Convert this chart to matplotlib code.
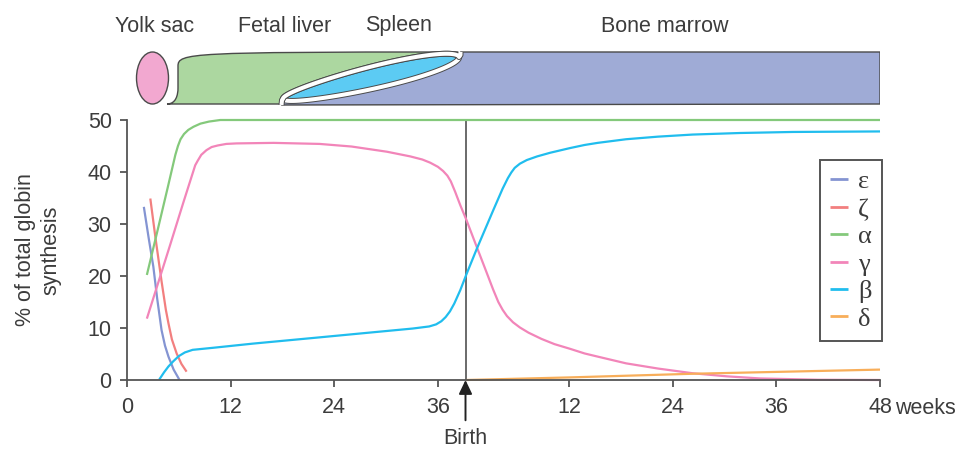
import numpy as np
import matplotlib
matplotlib.use("Agg")
import matplotlib.pyplot as plt
from matplotlib.patches import Ellipse, PathPatch
from matplotlib.path import Path

# ---------------- data (weeks on a continuous time axis; birth at BIRTH) --------------
BIRTH = 39.2
prenatal_ticks = [0, 12, 24, 36]
postnatal_ticks = [12, 24, 36, 48]
tick_labels = ["0", "12", "24", "36", "12", "24", "36", "48"]

eps_x = [1.95, 2.5, 3.05, 3.5, 4.0, 4.4, 4.8, 5.4, 6.05]
eps_y = [33.3, 27.4, 21.8, 15.6, 9.6, 6.6, 4.5, 2.0, 0.1]

zeta_x = [2.7, 3.3, 4.0, 4.5, 4.8, 5.2, 5.75, 6.3, 6.9]
zeta_y = [34.9, 27.3, 19.0, 13.5, 10.9, 7.8, 5.1, 3.1, 1.6]

alpha_x = [2.3, 3.5, 4.7, 5.6, 5.9, 6.2, 6.6, 7.1, 7.7, 8.5, 9.5, 10.8, 87.2]
alpha_y = [20.2, 28.5, 36.9, 43.3, 45.0, 46.3, 47.3, 48.1, 48.7, 49.3, 49.7, 50.0, 50.0]

gamma_x = [2.3, 3.5, 5.0, 6.5, 7.67, 7.9, 8.2, 8.6, 9.2, 9.8, 10.5, 11.5, 12.7, 17.0,
           22.3, 26.0, 30.1, 32.8, 34.2, 35.1, 36.0, 36.6, 37.1, 37.5, 38.0, 38.6,
           39.3, 40.5, 41.5, 42.4, 43.0, 43.5, 44.0, 44.7, 45.5, 46.5, 48.0, 49.5,
           51.3, 53.0, 54.5, 57.8, 61.5, 65.5, 69.5, 73.3, 80.0, 87.2]
gamma_y = [11.8, 18.1, 26.0, 34.0, 40.1, 41.3, 42.2, 43.3, 44.2, 44.8, 45.1, 45.4,
           45.5, 45.6, 45.4, 44.9, 43.9, 43.0, 42.4, 41.8, 41.0, 40.2, 39.3, 38.2,
           36.2, 33.6, 30.8, 25.6, 21.3, 17.4, 15.0, 13.5, 12.3, 11.1, 10.1, 9.1,
           7.9, 6.9, 6.0, 5.1, 4.5, 3.2, 2.2, 1.3, 0.7, 0.3, 0.05, 0.0]

beta_x = [3.74, 4.3, 4.8, 5.36, 6.0, 6.7, 7.6, 10.0, 14.6, 22.3, 28.0, 33.1, 35.0,
          35.8, 36.4, 36.9, 37.4, 37.9, 38.6, 39.3, 40.5, 42.4, 43.5, 44.1, 44.5,
          44.9, 45.5, 46.3, 47.5, 49.0, 51.3, 53.0, 54.5, 57.8, 61.5, 65.5, 71.0,
          77.1, 87.2]
beta_y = [0.1, 1.5, 2.6, 3.6, 4.6, 5.3, 5.8, 6.2, 7.0, 8.2, 9.1, 9.9, 10.3,
          10.7, 11.3, 12.1, 13.2, 14.7, 17.3, 20.3, 25.2, 32.6, 36.8, 38.8, 39.9,
          40.8, 41.6, 42.3, 43.0, 43.7, 44.6, 45.2, 45.6, 46.3, 46.8, 47.2, 47.5,
          47.7, 47.8]

delta_x = [39.3, 51.3, 65.5, 87.2]
delta_y = [0.0, 0.5, 1.2, 2.0]

series_labels = ["ε", "ζ", "α", "γ", "β", "δ"]
series_colors = ["#8494d2", "#f27f7f", "#84c97b", "#f285b9", "#20bdee", "#f8ae5a"]

organs = ["Yolk sac", "Fetal liver", "Spleen", "Bone marrow"]

# ---------------- figure ----------------
W, H = 956, 451
fig = plt.figure(figsize=(W / 100, H / 100), dpi=100)
SANS = ["Liberation Sans Narrow", "Liberation Sans", "DejaVu Sans"]
SERIF = ["Liberation Serif", "DejaVu Serif"]
TXT = "#3c3c3c"
SPINE = "#555555"
FS = 15.5

def fx(px):
    return px / W

def fy(py):
    return 1 - py / H

ax = fig.add_axes([fx(127), fy(380), (880 - 127) / W, (380 - 120) / H])
xmax = BIRTH + 48
ax.set_xlim(0, xmax)
ax.set_ylim(0, 50)

xs = [eps_x, zeta_x, alpha_x, gamma_x, beta_x, delta_x]
ys = [eps_y, zeta_y, alpha_y, gamma_y, beta_y, delta_y]
for x, y, lab, c in zip(xs, ys, series_labels, series_colors):
    ax.plot(x, y, color=c, lw=1.6, label=lab, clip_on=False, solid_capstyle="butt",
            solid_joinstyle="round")

for s in ["top", "right"]:
    ax.spines[s].set_visible(False)
for s in ["left", "bottom"]:
    ax.spines[s].set_color(SPINE)
    ax.spines[s].set_linewidth(1.3)

xt = prenatal_ticks + [BIRTH + t for t in postnatal_ticks]
ax.set_xticks(xt)
ax.set_xticklabels(tick_labels)
ax.set_yticks([0, 10, 20, 30, 40, 50])
ax.tick_params(axis="both", direction="out", length=5, width=1.3, color=SPINE,
               labelcolor=TXT, labelsize=FS)
ax.tick_params(axis="x", pad=7.5)
ax.tick_params(axis="y", pad=6)
for lbl in ax.get_xticklabels() + ax.get_yticklabels():
    lbl.set_family(SANS)

ax.annotate("weeks", xy=(xmax, 0), xytext=(10.8, -20.5), textcoords="offset points",
            ha="left", va="center", fontsize=FS, color=TXT, family=SANS,
            annotation_clip=False)

# birth marker
ax.axvline(BIRTH, ymin=0, ymax=1, color="#6a6a6a", lw=1.4, zorder=1)
ax.annotate("", xy=(BIRTH, 0), xytext=(0, -29), xycoords="data",
            textcoords="offset points",
            arrowprops=dict(arrowstyle="-|>,head_length=0.42,head_width=0.2",
                            mutation_scale=20, color="#222222", lw=1.4,
                            shrinkA=0, shrinkB=0),
            annotation_clip=False)
ax.annotate("Birth", xy=(BIRTH, 0), xytext=(0, -42), textcoords="offset points",
            ha="center", va="center", fontsize=FS, color=TXT, family=SANS,
            annotation_clip=False)

fig.text(fx(38), fy(250), "% of total globin\nsynthesis", rotation=90, ha="center",
         va="center", fontsize=FS, color=TXT, family=SANS, linespacing=1.3)

leg = ax.legend(loc="upper right", bbox_to_anchor=(fx(882), fy(160)),
                bbox_transform=fig.transFigure, borderaxespad=0, frameon=True,
                fancybox=False, framealpha=1, edgecolor=SPINE,
                prop=dict(family=SERIF, size=19), handlelength=0.66,
                handletextpad=0.4, borderpad=0.38, labelspacing=0.15)
leg.get_frame().set_linewidth(1.4)
for t in leg.get_texts():
    t.set_color(TXT)
for h in leg.get_lines():
    h.set_linewidth(2)

# ---------------- organ schematic ----------------
top = fig.add_axes([fx(127), fy(112), (880 - 127) / W, 68 / H])
top.set_xlim(0, xmax)
top.set_ylim(-8 / 52, 1 + 8 / 52)
top.axis("off")
pxw = (880 - 127) / xmax  # px per week

def wk(px):
    return (px - 127) / pxw

def yy(py):
    return (104 - py) / 52

C_Y, C_G, C_S, C_M = "#f2a8d0", "#acd7a0", "#5ccbf3", "#9fabd6"
OUT = "#4a4a4a"

# yolk sac
top.add_patch(Ellipse((wk(152.5), 0.5), (168.5 - 136.5) / pxw, 1.0, facecolor=C_Y,
                      edgecolor=OUT, lw=1.0))

# fetal liver
gv = [(wk(167), 0), (wk(176), 0), (wk(178), yy(95)), (wk(178), yy(88)),
      (wk(178), yy(66)), (wk(178), yy(53)), (wk(190), 1.0),
      (wk(458), 1.0), (wk(458), 0), (wk(167), 0)]
gc = [Path.MOVETO, Path.CURVE4, Path.CURVE4, Path.CURVE4,
      Path.LINETO, Path.CURVE4, Path.CURVE4, Path.CURVE4, Path.LINETO, Path.CLOSEPOLY]
top.add_patch(PathPatch(Path(gv, gc), facecolor=C_G, edgecolor=OUT, lw=1.0))

# spleen lens (in pixel space, then mapped)
A = np.array([283.0, 99.0])
B = np.array([459.0, 57.0])
cen = (A + B) / 2
d = (B - A) / np.linalg.norm(B - A)
n = np.array([d[1], -d[0]])  # upward normal (negative py)
half = np.linalg.norm(B - A) / 2
t = np.linspace(0, 2 * np.pi, 240)
u = half * np.cos(t)
v = 11.0 * np.sin(t) * (1 + 0.15 * np.cos(t))
lens_px = cen[None, :] + u[:, None] * d[None, :] + v[:, None] * n[None, :]
lens = np.column_stack([wk(lens_px[:, 0]), yy(lens_px[:, 1])])
upper = lens_px[(t >= 0) & (t <= np.pi)][::-1]  # left tip -> right tip, upper edge

# bone marrow
bound_px = np.vstack([[281.5, 105.0], [282.0, 100.0], upper, [460.5, 55.0],
                      [460.5, 52.0]])
bound = np.column_stack([wk(bound_px[:, 0]), yy(bound_px[:, 1])])
mverts = np.vstack([bound, [[xmax, yy(52.0)], [xmax, 0.0], bound[0]]])
top.add_patch(plt.Polygon(mverts, closed=True, facecolor=C_M, edgecolor=OUT, lw=1.0))
top.plot(bound[:, 0], bound[:, 1], color=OUT, lw=4.3, solid_capstyle="butt")
top.plot(bound[:, 0], bound[:, 1], color="white", lw=2.9, solid_capstyle="butt")

top.add_patch(plt.Polygon(lens, closed=True, facecolor=C_S, edgecolor=OUT, lw=4.3))
top.add_patch(plt.Polygon(lens, closed=True, facecolor="none", edgecolor="white", lw=2.9))

label_px = [154.5, 284.5, 399, 665]
for name, p in zip(organs, label_px):
    fig.text(fx(p), fy(26), name, ha="center", va="center", fontsize=FS, color=TXT,
             family=SANS)

fig.savefig("out.png", dpi=100, facecolor="white")
